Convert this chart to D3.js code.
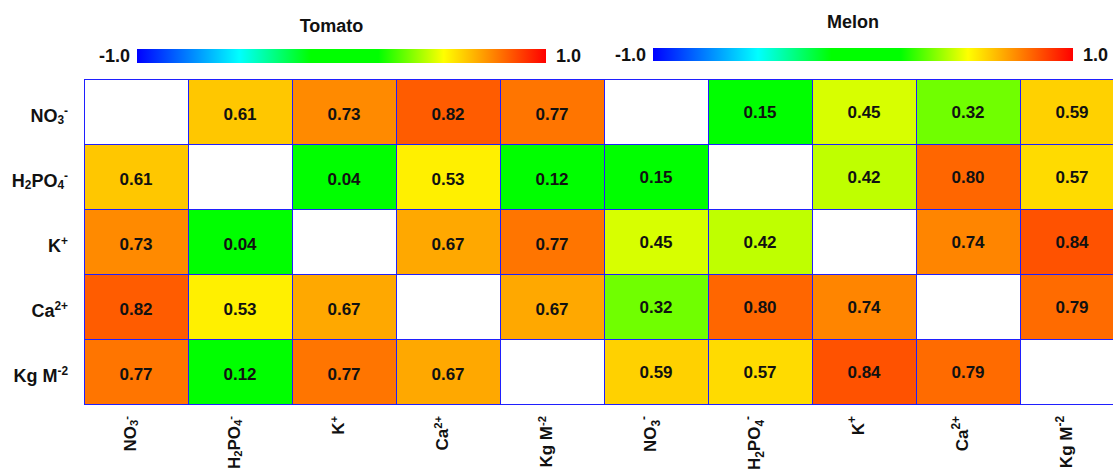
<!DOCTYPE html>
<html>
<head>
<meta charset="utf-8">
<script src="https://cdn.jsdelivr.net/npm/d3@7"></script>
<style>
  html, body { margin: 0; padding: 0; background: #fff; }
  svg { display: block; font-family: "Liberation Sans", Arial, sans-serif; font-weight: bold; }
</style>
</head>
<body>
<svg id="chart" width="1113" height="473"></svg>
<script>
// Variables (rows and columns share the same order)
const variables = [
  [{ t: "NO" }, { t: "3", sub: true }, { t: "-", sup: true }],
  [{ t: "H" }, { t: "2", sub: true }, { t: "PO" }, { t: "4", sub: true }, { t: "-", sup: true }],
  [{ t: "K" }, { t: "+", sup: true }],
  [{ t: "Ca" }, { t: "2+", sup: true }],
  [{ t: "Kg M" }, { t: "-2", sup: true }]
];

// Correlation matrices (null on the diagonal)
const tomato = [
  [null, 0.61, 0.73, 0.82, 0.77],
  [0.61, null, 0.04, 0.53, 0.12],
  [0.73, 0.04, null, 0.67, 0.77],
  [0.82, 0.53, 0.67, null, 0.67],
  [0.77, 0.12, 0.77, 0.67, null]
];
const melon = [
  [null, 0.15, 0.45, 0.32, 0.59],
  [0.15, null, 0.42, 0.80, 0.57],
  [0.45, 0.42, null, 0.74, 0.84],
  [0.32, 0.80, 0.74, null, 0.79],
  [0.59, 0.57, 0.84, 0.79, null]
];

const panelNames = ["Tomato", "Melon"];
const colorTicks = [-1.0, 1.0];

// Jet-like diverging scale from -1 to 1
const colorStops = [-1, -0.5, -0.15, 0.18, 0.5, 1];
const colorRange = ["#0000ff", "#00ffff", "#00ff00", "#00ff00", "#ffff00", "#ff0000"];
const color = d3.scaleLinear().domain(colorStops).range(colorRange).interpolate(d3.interpolateRgb).clamp(true);

const svg = d3.select("#chart");
const defs = svg.append("defs");

const grad = defs.append("linearGradient").attr("id", "jet").attr("x1", "0%").attr("x2", "100%");
colorStops.forEach((s, i) => {
  grad.append("stop").attr("offset", ((s + 1) / 2 * 100) + "%").attr("stop-color", colorRange[i]);
});

const idx = d3.range(variables.length);
const y = d3.scaleBand().domain(idx).range([79, 404]);

const panels = [
  { name: panelNames[0], data: tomato, x0: 84, x1: 604, bar: [137, 546, 49, 14], titleY: 32, valueDy: 3 },
  { name: panelNames[1], data: melon, x0: 604, x1: 1124, bar: [653, 1073, 48, 13], titleY: 28, valueDy: 1 }
];

function writeParts(textSel, parts, big) {
  parts.forEach(p => {
    const ts = textSel.append("tspan").text(p.t);
    if (p.sub) ts.attr("font-size", big ? "0.7em" : "0.66em").attr("baseline-shift", big ? "-30%" : "-20%");
    if (p.sup) ts.attr("font-size", big ? "0.7em" : "0.66em").attr("baseline-shift", big ? "70%" : "55%");
  });
}

panels.forEach((panel, pi) => {
  const x = d3.scaleBand().domain(idx).range([panel.x0, panel.x1]);
  const g = svg.append("g");

  // Title and colour bar
  const [bx0, bx1, by, bh] = panel.bar;
  const barScale = d3.scaleLinear().domain(colorTicks).range([bx0, bx1]);
  g.append("text")
    .attr("x", (bx0 + bx1) / 2 - 10)
    .attr("y", panel.titleY)
    .attr("text-anchor", "middle")
    .attr("font-size", 18)
    .attr("fill", "#111")
    .text(panel.name);
  g.append("rect")
    .attr("x", barScale(colorTicks[0]))
    .attr("y", by)
    .attr("width", barScale(colorTicks[1]) - barScale(colorTicks[0]))
    .attr("height", bh)
    .attr("fill", "url(#jet)");
  g.append("text")
    .attr("x", barScale(colorTicks[0]) - 7)
    .attr("y", by + bh / 2 + 6)
    .attr("text-anchor", "end")
    .attr("font-size", 18)
    .attr("fill", "#111")
    .text(colorTicks[0].toFixed(1));
  g.append("text")
    .attr("x", barScale(colorTicks[1]) + 10)
    .attr("y", by + bh / 2 + 6)
    .attr("text-anchor", "start")
    .attr("font-size", 18)
    .attr("fill", "#111")
    .text(colorTicks[1].toFixed(1));

  // Cells
  const cells = [];
  panel.data.forEach((row, r) => row.forEach((v, c) => cells.push({ r, c, v })));

  g.selectAll("rect.cell")
    .data(cells)
    .join("rect")
    .attr("class", "cell")
    .attr("x", d => x(d.c))
    .attr("y", d => y(d.r))
    .attr("width", x.bandwidth())
    .attr("height", y.bandwidth())
    .attr("fill", d => d.v == null ? "#ffffff" : color(d.v));

  // Cell grid lines
  const grid = g.append("g").attr("shape-rendering", "crispEdges");
  grid.selectAll("line.v")
    .data(d3.range(idx.length + 1))
    .join("line")
    .attr("x1", i => Math.round(panel.x0 + i * x.step()) + 0.5)
    .attr("x2", i => Math.round(panel.x0 + i * x.step()) + 0.5)
    .attr("y1", y.range()[0])
    .attr("y2", y.range()[1])
    .attr("stroke", "#1f1fff")
    .attr("stroke-width", 1.3);
  grid.selectAll("line.h")
    .data(d3.range(idx.length + 1))
    .join("line")
    .attr("x1", panel.x0)
    .attr("x2", panel.x1)
    .attr("y1", i => Math.round(y.range()[0] + i * y.step()) + 0.5)
    .attr("y2", i => Math.round(y.range()[0] + i * y.step()) + 0.5)
    .attr("stroke", "#1f1fff")
    .attr("stroke-width", 1.3);

  g.selectAll("text.val")
    .data(cells.filter(d => d.v != null))
    .join("text")
    .attr("class", "val")
    .attr("x", d => x(d.c) + x.bandwidth() / 2)
    .attr("y", d => y(d.r) + y.bandwidth() / 2 + panel.valueDy)
    .attr("dy", "0.35em")
    .attr("text-anchor", "middle")
    .attr("font-size", 17)
    .attr("fill", "#111")
    .text(d => d.v.toFixed(2));

  // Column labels, rotated
  idx.forEach(c => {
    const t = g.append("text")
      .attr("transform", `translate(${x(c) + x.bandwidth() / 2},416) rotate(-90)`)
      .attr("text-anchor", "end")
      .attr("font-size", 17)
      .attr("fill", "#111");
    writeParts(t, variables[c], pi === 1);
  });
});

// Row labels
idx.forEach(r => {
  const t = svg.append("text")
    .attr("x", 68)
    .attr("y", y(r) + y.bandwidth() / 2 + 10)
    .attr("text-anchor", "end")
    .attr("font-size", 18)
    .attr("fill", "#111");
  writeParts(t, variables[r], false);
});
</script>
</body>
</html>
